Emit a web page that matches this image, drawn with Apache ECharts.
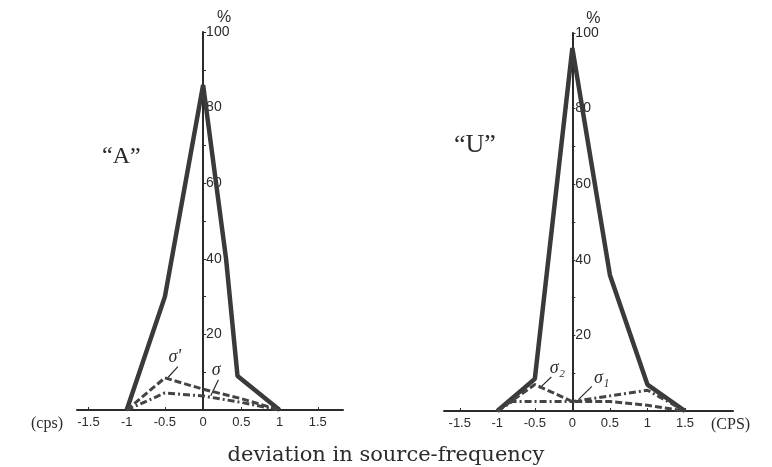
<!DOCTYPE html>
<html>
<head>
<meta charset="utf-8">
<script src="https://cdn.jsdelivr.net/npm/echarts@6/dist/echarts.min.js"></script>
<style>
html,body{margin:0;padding:0;background:#fff;}
#c{width:772px;height:467px;}
</style>
</head>
<body>
<div id="c"></div>
<script>
// ---- data ----
const xTickValues = [-1.5, -1, -0.5, 0, 0.5, 1, 1.5];
const yTickLabels = [20, 40, 60, 80, 100];

// panel "A"
const aMainX = [-1, -0.5, 0, 0.3, 0.45, 1];
const aMainY = [0, 30, 86, 40, 9, 0];
const aSigmaPrimeX = [-1, -0.5, 0, 0.5, 1];
const aSigmaPrimeY = [0, 8.5, 5.5, 3, 0];
const aSigmaX = [-1, -0.5, 0, 0.5, 1];
const aSigmaY = [0, 4.5, 3.7, 2, 0];

// panel "U"
const uMainX = [-1, -0.5, 0, 0.5, 1, 1.5];
const uMainY = [0, 8.5, 96, 36, 7, 0];
const uSigma2X = [-1, -0.5, 0, 0.5, 1, 1.5];
const uSigma2Y = [0, 7, 2.5, 2.5, 1.5, 0];
const uSigma1X = [-1, -0.8, 0, 0.5, 1, 1.5];
const uSigma1Y = [0, 2.5, 2.5, 4, 5.5, 0];

// annotations (data coords): label, text pos, leader from, leader to
const annA = [
  {t: "σ'", at: [-0.37, 14], from: [-0.46, 8.6], to: [-0.33, 11.5]},
  {t: "σ", at: [0.17, 10.5], from: [0.1, 3.8], to: [0.2, 8]}
];
const annU = [
  {t: "σ₂", at: [-0.2, 11.4], from: [-0.44, 6], to: [-0.28, 9]},
  {t: "σ₁", at: [0.39, 8.6], from: [0.08, 3], to: [0.26, 6.5]}
];

const zip = (xs, ys) => xs.map((x, i) => [x, ys[i]]);
const ink = '#2b2b2b';
const handFont = 'Liberation Sans';

const grids = [
  {left: 77, width: 266, top: 32, height: 378, xMin: -1.65, xMax: 1.83},
  {left: 444, width: 289, top: 33, height: 378, xMin: -1.71, xMax: 2.14}
];

function xAxisCfg(idx, name, nameLoc) {
  return {
    type: 'value', gridIndex: idx, min: grids[idx].xMin, max: grids[idx].xMax,
    axisLine: {show: true, onZero: false, lineStyle: {color: ink, width: 2}},
    axisTick: {show: true, inside: true, length: 3, customValues: xTickValues, lineStyle: {color: ink}},
    splitLine: {show: false},
    axisLabel: {
      customValues: xTickValues, color: ink, fontSize: 13, fontFamily: handFont, margin: 6,
      formatter: v => String(v)
    },
    name: name, nameLocation: nameLoc,
    nameGap: nameLoc === 'start' ? 14 : -22,
    nameTextStyle: {color: ink, fontSize: 16, fontFamily: 'Liberation Serif', verticalAlign: 'top', padding: [6, 0, 0, 0]}
  };
}
function yAxisCfg(idx) {
  const g = grids[idx];
  // place the y axis at x = 0 of its grid
  const zeroOffset = (0 - g.xMin) / (g.xMax - g.xMin) * g.width;
  return {
    type: 'value', gridIndex: idx, min: 0, max: 100, interval: 10,
    position: 'left', offset: -zeroOffset,
    axisLine: {show: true, onZero: false, lineStyle: {color: ink, width: 2}},
    axisTick: {show: true, inside: true, length: 3, lineStyle: {color: ink}},
    splitLine: {show: false},
    axisLabel: {
      inside: true, color: ink, fontSize: 14, fontFamily: handFont, margin: 3,
      formatter: v => (yTickLabels.indexOf(v) >= 0 ? String(v) : '')
    },
    name: '%', nameLocation: 'end', nameGap: 6,
    nameTextStyle: {color: ink, fontSize: 16, fontFamily: handFont, align: 'left', padding: [0, 0, 0, 14]}
  };
}
const mainStyle = {color: '#3a3a3a', width: 4.5};
function lineSeries(x, y, gi, style) {
  return {
    type: 'line', xAxisIndex: gi, yAxisIndex: gi, data: zip(x, y),
    symbol: 'none', lineStyle: style, z: 3, silent: true
  };
}

const chart = echarts.init(document.getElementById('c'), null, {renderer: 'canvas'});
chart.setOption({
  backgroundColor: '#ffffff',
  animation: false,
  title: [
    {text: '“A”', left: 97, top: 140, textStyle: {fontFamily: 'Liberation Serif', fontWeight: 'normal', fontSize: 24, color: ink}},
    {text: '“U”', left: 449, top: 127, textStyle: {fontFamily: 'Liberation Serif', fontWeight: 'normal', fontSize: 26, color: ink}},
    {text: 'deviation in source-frequency', left: 'center', top: 440, textStyle: {fontFamily: 'DejaVu Serif', fontWeight: 'normal', fontSize: 21, color: ink}}
  ],
  grid: grids.map(g => ({left: g.left, width: g.width, top: g.top, height: g.height})),
  xAxis: [
    xAxisCfg(0, '(cps)', 'start'),
    xAxisCfg(1, '(CPS)', 'end')
  ],
  yAxis: [yAxisCfg(0), yAxisCfg(1)],
  series: [
    lineSeries(aMainX, aMainY, 0, mainStyle),
    lineSeries(aSigmaPrimeX, aSigmaPrimeY, 0, {color: '#444', width: 3, type: [7, 3]}),
    lineSeries(aSigmaX, aSigmaY, 0, {color: '#444', width: 3, type: [7, 3, 2, 3]}),
    lineSeries(uMainX, uMainY, 1, mainStyle),
    lineSeries(uSigma2X, uSigma2Y, 1, {color: '#444', width: 3, type: [7, 3]}),
    lineSeries(uSigma1X, uSigma1Y, 1, {color: '#444', width: 3, type: [7, 3, 2, 3]})
  ]
});

function annGraphics(list, gi) {
  const out = [];
  list.forEach(a => {
    const p = chart.convertToPixel({gridIndex: gi}, a.at);
    const f = chart.convertToPixel({gridIndex: gi}, a.from);
    const t = chart.convertToPixel({gridIndex: gi}, a.to);
    out.push({type: 'text', x: p[0], y: p[1], silent: true,
      style: {text: a.t, fill: ink, font: 'italic 18px "Liberation Serif"', align: 'center', verticalAlign: 'middle'}});
    out.push({type: 'line', silent: true, shape: {x1: f[0], y1: f[1], x2: t[0], y2: t[1]},
      style: {stroke: ink, lineWidth: 1.2}});
  });
  return out;
}
chart.setOption({graphic: annGraphics(annA, 0).concat(annGraphics(annU, 1))});
</script>
</body>
</html>
